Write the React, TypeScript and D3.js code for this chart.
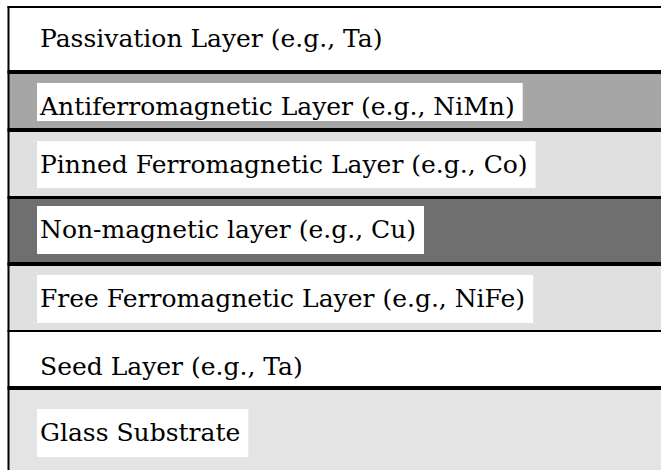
import React, { useEffect, useRef } from "react";
import * as d3 from "d3";

// layer stack, top to bottom
const layerNames = [
  "Passivation Layer (e.g., Ta)",
  "Antiferromagnetic Layer (e.g., NiMn)",
  "Pinned Ferromagnetic Layer (e.g., Co)",
  "Non-magnetic layer (e.g., Cu)",
  "Free Ferromagnetic Layer (e.g., NiFe)",
  "Seed Layer (e.g., Ta)",
  "Glass Substrate",
];
// relative thickness of each band as drawn
const layerThickness = [65, 58, 67.5, 66.5, 67, 57, 82];
const layerFills = ["#ffffff", "#a6a6a6", "#e0e0e0", "#6f6f6f", "#e0e0e0", "#ffffff", "#e4e4e4"];

// styling per band
const borderWidths = [2, 4, 4, 3, 4, 2, 4];
const labelOffsets = [40, 43, 43, 40.5, 43, 44, 53];
const boxDescent = [15, 6, 15, 16, 16, 15, 16];

const W = 661;
const H = 470;

export default function App() {
  const ref = useRef<SVGSVGElement>(null);

  useEffect(() => {
    const svg = d3.select(ref.current);
    svg.selectAll("*").remove();

    const tops = d3.cumsum([0, ...layerThickness]);
    const y = d3.scaleLinear().domain([0, d3.sum(layerThickness)]).range([7, H]);
    const left = 8.5;

    const rows = layerNames.map((name, i) => ({
      name,
      i,
      y0: y(tops[i]),
      y1: y(tops[i + 1]),
    }));

    svg
      .append("g")
      .selectAll("rect")
      .data(rows)
      .join("rect")
      .attr("x", left)
      .attr("y", (d) => d.y0)
      .attr("width", W - left)
      .attr("height", (d) => d.y1 - d.y0)
      .attr("fill", (d) => layerFills[d.i]);

    const labels = svg.append("g").selectAll("g").data(rows).join("g");
    const box = labels.append("rect").attr("fill", "#ffffff");
    const txt = labels
      .append("text")
      .attr("x", 40)
      .attr("y", (d) => d.y0 + labelOffsets[d.i])
      .attr("font-family", "'DejaVu Serif', serif")
      .attr("font-size", 25)
      .attr("fill", "#000")
      .text((d) => d.name);

    box.each(function (d, k) {
      const node = txt.nodes()[k] as SVGTextElement;
      const len = node.getComputedTextLength();
      const base = d.y0 + labelOffsets[d.i];
      d3.select(this)
        .attr("x", 37)
        .attr("y", base - 32)
        .attr("width", len + 11)
        .attr("height", 32 + boxDescent[d.i]);
    });

    svg
      .append("g")
      .selectAll("line")
      .data(rows)
      .join("line")
      .attr("x1", left - 1)
      .attr("x2", W)
      .attr("y1", (d) => d.y0)
      .attr("y2", (d) => d.y0)
      .attr("stroke", "#000")
      .attr("stroke-width", (d) => borderWidths[d.i]);

    svg
      .append("line")
      .attr("x1", left)
      .attr("x2", left)
      .attr("y1", 6)
      .attr("y2", H)
      .attr("stroke", "#000")
      .attr("stroke-width", 2);
  }, []);

  return (
    <svg
      ref={ref}
      width={W}
      height={H}
      style={{ position: "absolute", left: 0, top: 0, background: "#fff" }}
    />
  );
}
